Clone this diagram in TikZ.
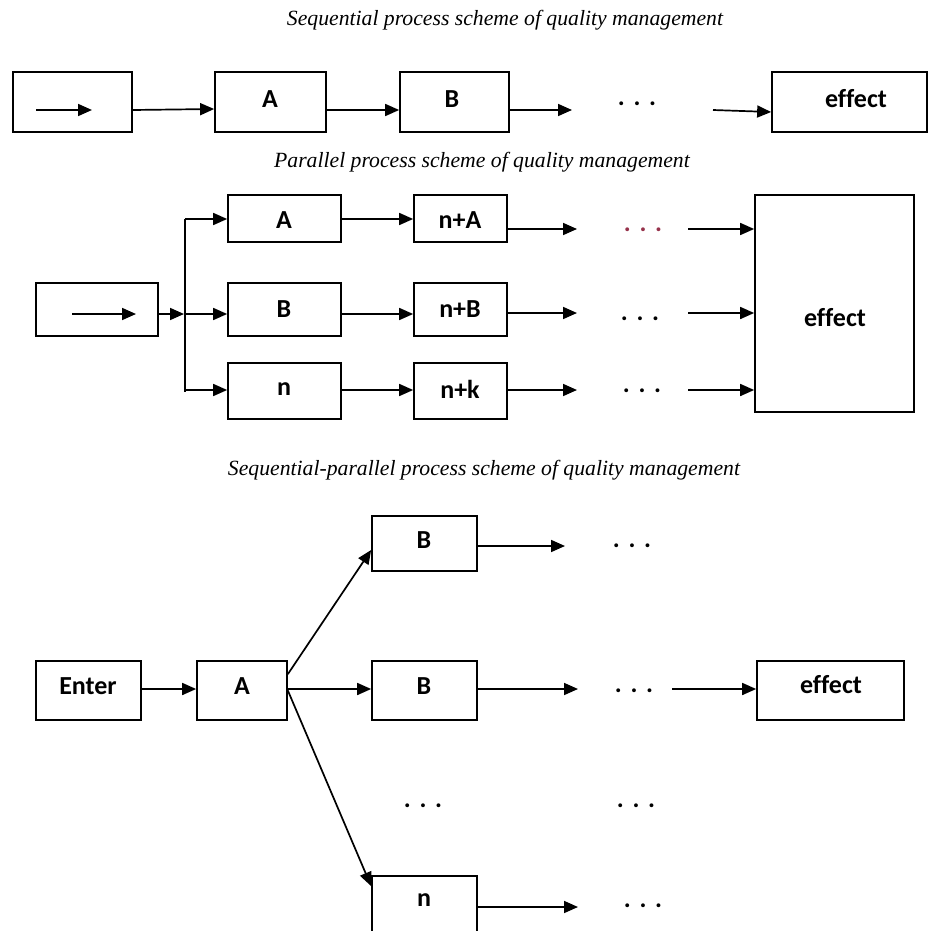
\documentclass[tikz,border=0pt]{standalone}
\usepackage{fontspec}
\setmainfont{Liberation Serif}
\newfontfamily\lblfont[Ligatures=NoCommon]{Carlito}
\usetikzlibrary{arrows.meta,fit}
\definecolor{dotred}{RGB}{150,50,75}
\begin{document}
\begin{tikzpicture}[x=1pt,y=-1pt,
 box/.style={draw, line width=1.7pt, rectangle, inner sep=0pt},
 lbl/.style={font=\lblfont\bfseries\fontsize{26}{30}\selectfont, inner sep=0pt},
 ttl/.style={font=\itshape\fontsize{21.7}{26}\selectfont, inner sep=0pt},
 dts/.style={font=\lblfont\bfseries\fontsize{26}{30}\selectfont, inner sep=0pt, anchor=base},
 arr/.style={line width=1.7pt, -{Triangle[length=14pt,width=12pt]}},
 ln/.style={line width=1.7pt}]
\useasboundingbox (0,0) rectangle (928,931);

% ---------- titles
\node[ttl] (t1) at (505,20) {Sequential process scheme of quality management};
\node[ttl] (t2) at (482,162) {Parallel process scheme of quality management};
\node[ttl] (t3) at (484,470) {Sequential-parallel process scheme of quality management};

% ---------- sequential
\node[box, fit={(13,72) (132,132)}] (s0) {};
\coordinate (s0i1) at (36,110);
\coordinate (s0i2) at (92,110);
\draw[arr] (s0i1) -- (s0i2);
\node[box, fit={(215,72) (326,132)}] (sA) {};
\node[lbl] (sAt) at (270,99) {A};
\node[box, fit={(400,72) (509,132)}] (sB) {};
\node[lbl] (sBt) at (452,99) {B};
\node[dts] (sD) at (637,106) {.\,\,.\,\,.};
\coordinate (s1) at (572,110);
\coordinate (s2) at (713,110);
\node[box, fit={(772,72) (927,132)}] (sE) {};
\node[lbl] (sEt) at (856,99) {effect};
\draw[arr] ([yshift=-8pt]s0.east) -- ([yshift=-7pt]sA.west);
\draw[arr] ([yshift=-8pt]sA.east) -- ([yshift=-8pt]sB.west);
\draw[arr] ([yshift=-8pt]sB.east) -- (s1);
\draw[arr] (s2) -- ([yshift=-10pt]sE.west);

% ---------- parallel
\node[box, fit={(36,283) (158,336)}] (p0) {};
\coordinate (p0i1) at (72,314);
\coordinate (p0i2) at (136,314);
\draw[arr] (p0i1) -- (p0i2);
\coordinate (pv1) at (185,219);
\coordinate (pvm) at (185,314);
\coordinate (pv3) at (185,390);
\coordinate (pv4) at (185,392);
\draw[ln] (pv1) -- (pv4);
\draw[arr] ([yshift=-4.5pt]p0.east) -- ([xshift=-1pt]pvm);

\node[box, fit={(228,195) (341,242)}] (pA) {};
\node[lbl] (pAt) at (284,220) {A};
\node[box, fit={(228,283) (341,336)}] (pB) {};
\node[lbl] (pBt) at (284,309) {B};
\node[box, fit={(228,363) (341,419)}] (pn) {};
\node[lbl] (pnt) at (284,389) {n};
\draw[arr] (pv1) -- (pA.west |- pv1);
\draw[arr] (pvm) -- (pB.west |- pvm);
\draw[arr] (pv3) -- (pn.west |- pv3);

\node[box, fit={(414,195) (507,242)}] (pnA) {};
\node[lbl] (pnAt) at (460,220) {n+A};
\node[box, fit={(414,283) (507,336)}] (pnB) {};
\node[lbl] (pnBt) at (460,309) {n+B};
\node[box, fit={(414,363) (507,419)}] (pnk) {};
\node[lbl] (pnkt) at (460,389) {n+k};
\draw[arr] (pA.east |- pv1) -- (pnA.west |- pv1);
\draw[arr] (pB.east |- pvm) -- (pnB.west |- pvm);
\draw[arr] (pn.east |- pv3) -- (pnk.west |- pv3);

\coordinate (pa1) at (577,229);
\coordinate (pb1) at (577,313);
\coordinate (pc1) at (577,390);
\draw[arr] (pnA.east |- pa1) -- (pa1);
\draw[arr] (pnB.east |- pb1) -- (pb1);
\draw[arr] (pnk.east |- pc1) -- (pc1);
\node[dts, text=dotred] (pD1) at (643,231) {.\,\,.\,\,.};
\node[dts] (pD2) at (640,320) {.\,\,.\,\,.};
\node[dts] (pD3) at (642,392) {.\,\,.\,\,.};
\node[box, fit={(755,195) (914,412)}] (pE) {};
\node[lbl] (pEt) at (835,318) {effect};
\coordinate (pa2) at (688,229);
\coordinate (pb2) at (688,313);
\coordinate (pc2) at (688,390);
\draw[arr] (pa2) -- (pE.west |- pa2);
\draw[arr] (pb2) -- (pE.west |- pb2);
\draw[arr] (pc2) -- (pE.west |- pc2);

% ---------- sequential-parallel
\node[box, fit={(36,661) (141,720)}] (qIn) {};
\node[lbl] (qInt) at (88,686) {Enter};
\node[box, fit={(197,661) (287,720)}] (qA) {};
\node[lbl] (qAt) at (242,686) {A};
\draw[arr] ([yshift=1.5pt]qIn.east) -- ([yshift=1.5pt]qA.west);

\node[box, fit={(372,516) (477,571)}] (qB1) {};
\node[lbl] (qB1t) at (424,540) {B};
\node[box, fit={(372,661) (477,720)}] (qB2) {};
\node[lbl] (qB2t) at (424,686) {B};
\node[box, fit={(372,876) (477,938)}] (qn) {};
\node[lbl] (qnt) at (424,900) {n};

\draw[arr] ([yshift=-14pt]qA.north east) -- ([yshift=-6.5pt]qB1.west);
\draw[arr] ([yshift=1.5pt]qA.east) -- ([yshift=1.5pt]qB2.west);
\draw[arr] (qA.east) -- ([yshift=-11pt]qn.north west);

\node[dts] (qDm) at (423,807) {.\,\,.\,\,.};

\coordinate (q1) at (565,546);
\draw[arr] (qB1.east |- q1) -- (q1);
\node[dts] (qD1) at (632,547) {.\,\,.\,\,.};

\coordinate (q2) at (578,689);
\draw[arr] (qB2.east |- q2) -- (q2);
\node[dts] (qD2) at (634,692) {.\,\,.\,\,.};
\node[box, fit={(757,661) (904,720)}] (qE) {};
\node[lbl] (qEt) at (831,685) {effect};
\coordinate (q2b) at (672,689);
\draw[arr] (q2b) -- (qE.west |- q2b);

\node[dts] (qD3) at (636,807) {.\,\,.\,\,.};

\coordinate (q4) at (578,907);
\draw[arr] (qn.east |- q4) -- (q4);
\node[dts] (qD4) at (643,907) {.\,\,.\,\,.};
\end{tikzpicture}
\end{document}
